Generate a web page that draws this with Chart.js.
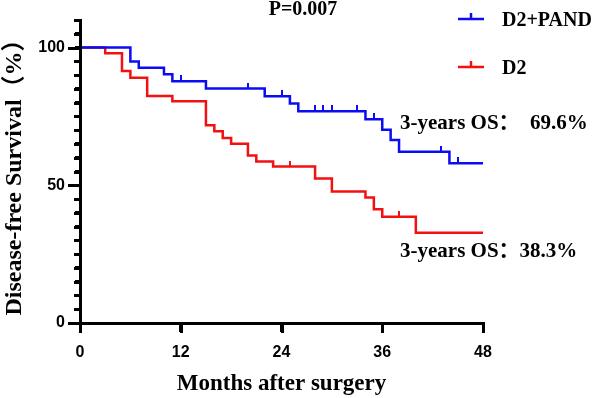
<!DOCTYPE html>
<html lang="en">

<head>
    <meta charset="UTF-8">
    <title>Disease-free Survival</title>
    <script src="https://cdn.jsdelivr.net/npm/chart.js"></script>
    <style>
        body {
            margin: 0;
            background: #fff;
        }

        .chart-box {
            position: relative;
            width: 597px;
            height: 398px;
        }
    </style>
</head>

<body>
    <div class="chart-box"><canvas id="kmChart"></canvas></div>

    <script>
        // Kaplan-Meier steps (months, survival %)
        const pandTimes = [0, 6, 7, 10, 11, 15, 22, 25, 26, 34, 36, 37, 38, 44, 48];
        const pandSurv = [100, 94.9, 92.7, 90.3, 87.8, 85.1, 82.3, 79.7, 76.9, 74.0, 70.2, 66.4, 62.2, 58.0, 58.0];
        const pandCensorTimes = [12, 20, 24, 28, 29, 30, 33, 35, 43, 45];
        const pandCensorSurv = [87.8, 85.1, 82.3, 76.9, 76.9, 76.9, 76.9, 74.0, 62.2, 58.0];

        const d2Times = [0, 3, 5, 6, 8, 11, 15, 16, 17, 18, 20, 21, 23, 28, 30, 34, 35, 36, 40, 48];
        const d2Surv = [100, 97.9, 91.5, 89.0, 82.4, 80.5, 71.8, 69.6, 67.2, 65.1, 60.8, 58.6, 56.8, 52.5, 47.7, 45.6, 41.3, 38.6, 32.8, 32.8];
        const d2CensorTimes = [25, 38];
        const d2CensorSurv = [56.8, 38.6];

        const xTicks = [0, 12, 24, 36, 48];
        const yLabelled = [0, 50, 100];

        const BLUE = '#0c0cf2';
        const RED = '#f21010';
        const SERIF = '"Liberation Serif", "Noto Sans CJK SC", serif';
        const SANS = '"Liberation Sans", Arial, sans-serif';

        const toPoints = (xs, ys) => xs.map((t, i) => ({ x: t, y: ys[i] }));

        // small upward tick used as censor mark
        function censorMark(color) {
            const c = document.createElement('canvas');
            c.width = 2;
            c.height = 12;
            const g = c.getContext('2d');
            g.fillStyle = color;
            g.fillRect(0, 0, 2, 6);
            return c;
        }

        // axes and ticks filled from the scales, plus title, legend and notes
        const kmText = {
            id: 'kmText',
            afterDraw(chart) {
                const { ctx, scales: { x, y } } = chart;
                const ax = Math.round(x.left);
                const ay = Math.round(y.bottom);
                ctx.save();
                ctx.fillStyle = '#000';
                ctx.fillRect(ax - 1, Math.round(y.top), 3, ay - Math.round(y.top) + 2);
                ctx.fillRect(ax - 1, ay - 1, Math.round(x.right) - ax + 3, 3);
                y.ticks.forEach(t => {
                    const py = Math.round(y.getPixelForValue(t.value));
                    const len = yLabelled.includes(t.value) ? 12 : 6;
                    ctx.fillRect(ax - len, py - 1, len, 3);
                });
                x.ticks.forEach(t => {
                    const px = Math.round(x.getPixelForValue(t.value));
                    ctx.fillRect(px - 1, ay, 3, 10);
                });

                ctx.font = 'bold 20px ' + SERIF;
                ctx.textAlign = 'center';
                ctx.textBaseline = 'alphabetic';
                ctx.fillText('P=0.007', 303, 15);

                // legend
                [[BLUE, 'D2+PAND', 19], [RED, 'D2', 67]].forEach(([col, txt, ly]) => {
                    ctx.strokeStyle = col;
                    ctx.lineWidth = 2.5;
                    ctx.beginPath();
                    ctx.moveTo(458, ly);
                    ctx.lineTo(484, ly);
                    ctx.moveTo(471, ly);
                    ctx.lineTo(471, ly - 6);
                    ctx.stroke();
                    ctx.fillStyle = '#000';
                    ctx.textAlign = 'left';
                    ctx.font = 'bold 20px ' + SERIF;
                    ctx.fillText(txt, 502, ly + 7);
                });

                ctx.font = 'bold 21px ' + SERIF;
                ctx.fillText('3-years OS：  69.6%', 400, 129);
                ctx.fillText('3-years OS：38.3%', 400, 257);
                ctx.restore();
            }
        };

        new Chart(document.getElementById('kmChart'), {
            type: 'line',
            data: {
                datasets: [{
                    label: 'D2+PAND',
                    data: toPoints(pandTimes, pandSurv),
                    borderColor: BLUE,
                    borderWidth: 2.5,
                    stepped: true,
                    pointRadius: 0,
                    fill: false
                }, {
                    label: 'D2',
                    data: toPoints(d2Times, d2Surv),
                    borderColor: RED,
                    borderWidth: 2.5,
                    stepped: true,
                    pointRadius: 0,
                    fill: false
                }, {
                    type: 'scatter',
                    label: 'D2+PAND censored',
                    data: toPoints(pandCensorTimes, pandCensorSurv),
                    pointStyle: censorMark(BLUE),
                    pointRadius: 3
                }, {
                    type: 'scatter',
                    label: 'D2 censored',
                    data: toPoints(d2CensorTimes, d2CensorSurv),
                    pointStyle: censorMark(RED),
                    pointRadius: 3
                }]
            },
            options: {
                responsive: true,
                maintainAspectRatio: false,
                devicePixelRatio: 1,
                animation: false,
                layout: { padding: { left: 0, right: 114, top: 20, bottom: 0 } },
                plugins: {
                    legend: { display: false },
                    tooltip: { enabled: false }
                },
                scales: {
                    x: {
                        type: 'linear',
                        min: 0,
                        max: 48,
                        afterBuildTicks: s => { s.ticks = xTicks.map(v => ({ value: v })); },
                        afterFit: s => { s.height = 75; },
                        grid: { drawOnChartArea: false, tickLength: 9, tickWidth: 3, tickColor: '#000' },
                        border: { color: '#000', width: 3 },
                        ticks: {
                            color: '#000',
                            maxRotation: 0,
                            padding: 11,
                            font: { family: SANS, size: 16, weight: 'bold' }
                        },
                        title: {
                            display: true,
                            text: 'Months after surgery',
                            color: '#000',
                            padding: { top: 0, bottom: 0 },
                            font: { family: SERIF, size: 23, weight: 'bold' }
                        }
                    },
                    y: {
                        min: 0,
                        max: 110,
                        afterFit: s => { s.width = 80; },
                        grid: { drawOnChartArea: false, tickLength: 5, tickWidth: 3, tickColor: '#000' },
                        border: { color: '#000', width: 3 },
                        ticks: {
                            stepSize: 5,
                            autoSkip: false,
                            color: '#000',
                            padding: 10,
                            font: { family: SANS, size: 16, weight: 'bold' },
                            callback: v => yLabelled.includes(v) ? v : ''
                        },
                        title: {
                            display: true,
                            text: 'Disease-free Survival（%）',
                            color: '#000',
                            padding: { top: 0, bottom: 0 },
                            font: { family: SERIF, size: 24, weight: 'bold' }
                        }
                    }
                }
            },
            plugins: [kmText]
        });
    </script>
</body>

</html>
